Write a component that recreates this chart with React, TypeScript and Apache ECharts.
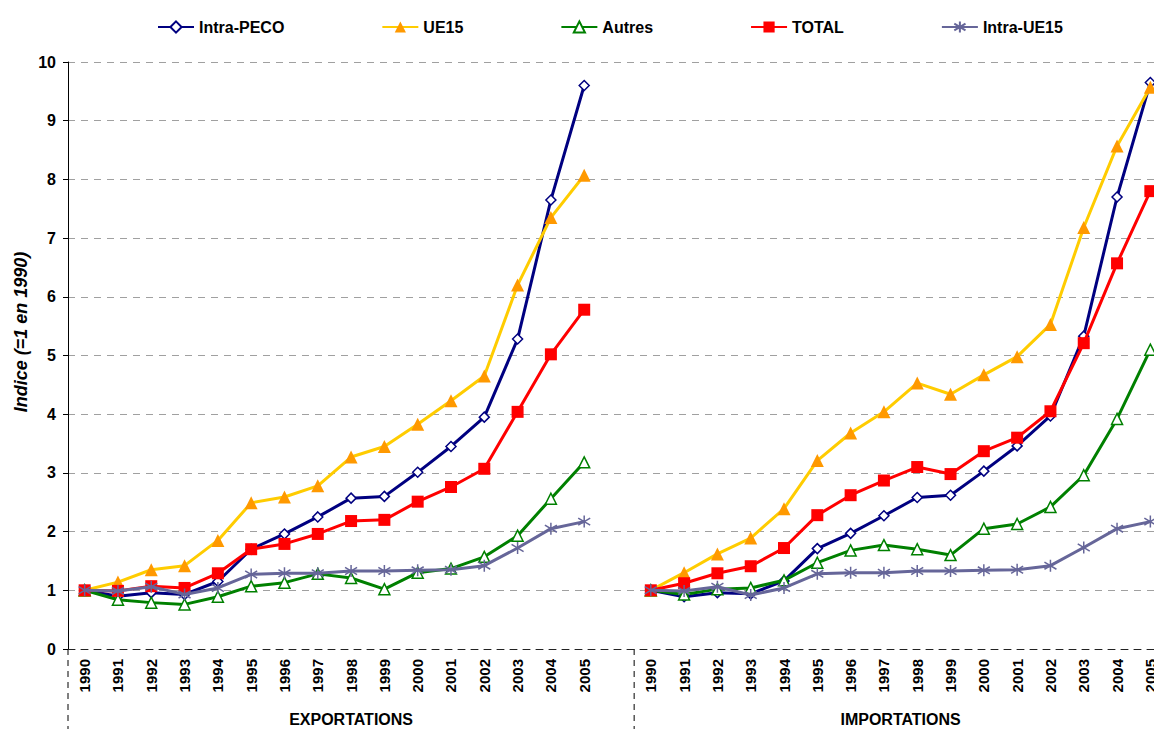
import React, { useEffect, useRef } from "react";
import * as echarts from "echarts";

const years = ["1990","1991","1992","1993","1994","1995","1996","1997","1998","1999","2000","2001","2002","2003","2004","2005"];
const groups = ["EXPORTATIONS", "IMPORTATIONS"];
const seriesNames = ["Intra-PECO", "UE15", "Autres", "TOTAL", "Intra-UE15"];
const yTitle = "Indice (=1 en 1990)";

const intraPecoExp = [1, 0.90, 0.96, 0.93, 1.15, 1.70, 1.96, 2.25, 2.57, 2.60, 3.01, 3.45, 3.95, 5.28, 7.65, 9.60];
const ue15Exp = [1, 1.14, 1.35, 1.42, 1.85, 2.49, 2.59, 2.78, 3.27, 3.45, 3.83, 4.23, 4.65, 6.20, 7.35, 8.07];
const autresExp = [1, 0.84, 0.79, 0.76, 0.89, 1.07, 1.13, 1.28, 1.21, 1.02, 1.30, 1.37, 1.57, 1.93, 2.56, 3.18];
const totalExp = [1, 0.99, 1.07, 1.04, 1.29, 1.70, 1.79, 1.96, 2.18, 2.20, 2.51, 2.76, 3.07, 4.04, 5.02, 5.78];
const intraUe15Exp = [1, 0.99, 1.06, 0.93, 1.04, 1.27, 1.29, 1.29, 1.33, 1.33, 1.34, 1.35, 1.42, 1.72, 2.05, 2.17];

const intraPecoImp = [1, 0.89, 0.96, 0.94, 1.16, 1.71, 1.97, 2.27, 2.58, 2.62, 3.03, 3.46, 3.97, 5.33, 7.70, 9.65];
const ue15Imp = [1, 1.30, 1.62, 1.89, 2.39, 3.21, 3.68, 4.04, 4.53, 4.34, 4.67, 4.98, 5.53, 7.18, 8.57, 9.57];
const autresImp = [1, 0.93, 1.02, 1.04, 1.17, 1.47, 1.68, 1.77, 1.70, 1.60, 2.05, 2.13, 2.42, 2.96, 3.92, 5.10];
const totalImp = [1, 1.12, 1.29, 1.41, 1.72, 2.28, 2.62, 2.87, 3.10, 2.98, 3.37, 3.60, 4.05, 5.21, 6.57, 7.80];
const intraUe15Imp = [1, 0.99, 1.06, 0.92, 1.04, 1.28, 1.30, 1.30, 1.33, 1.33, 1.34, 1.35, 1.42, 1.73, 2.05, 2.17];

const yTicks = [0, 1, 2, 3, 4, 5, 6, 7, 8, 9, 10];

const FONT = "Arial, 'Liberation Sans', sans-serif";
const asterisk = "path://M5,0L5,10M0.7,2L9.3,8M9.3,2L0.7,8";

function join(a: number[], b: number[]) {
  return [...a, null, ...b];
}

export default function App() {
  const ref = useRef<HTMLDivElement>(null);
  useEffect(() => {
    if (!ref.current) return;
    const chart = echarts.init(ref.current, null, { renderer: "svg" });
    const categories = [...years, "", ...years];
    const lineBase = (name: string, data: any[], color: string, extra: any) => ({
      name,
      type: "line",
      data,
      smooth: false,
      connectNulls: false,
      lineStyle: { color, width: 3 },
      ...extra,
    });
    const series = [
      lineBase(seriesNames[0], join(intraPecoExp, intraPecoImp), "#000080", {
        symbol: "diamond", symbolSize: 10,
        itemStyle: { color: "#ffffff", borderColor: "#000080", borderWidth: 1.5 },
        z: 2,
      }),
      lineBase(seriesNames[1], join(ue15Exp, ue15Imp), "#FFCC00", {
        symbol: "triangle", symbolSize: 13,
        itemStyle: { color: "#FF9900", borderColor: "#FF9900", borderWidth: 0 },
        z: 3,
      }),
      lineBase(seriesNames[2], join(autresExp, autresImp), "#008000", {
        symbol: "triangle", symbolSize: 11,
        itemStyle: { color: "#ffffff", borderColor: "#008000", borderWidth: 1.5 },
        z: 4,
      }),
      lineBase(seriesNames[3], join(totalExp, totalImp), "#FF0000", {
        symbol: "rect", symbolSize: 12,
        itemStyle: { color: "#FF0000", borderColor: "#FF0000", borderWidth: 0 },
        z: 5,
      }),
      lineBase(seriesNames[4], join(intraUe15Exp, intraUe15Imp), "#666699", {
        symbol: asterisk, symbolSize: 12,
        itemStyle: { color: "#666699", borderColor: "#666699", borderWidth: 1.5 },
        z: 6,
      }),
    ];
    chart.setOption({
      animation: false,
      textStyle: { fontFamily: FONT },
      legend: {
        top: 19,
        left: 157,
        padding: 0,
        itemWidth: 36,
        itemHeight: 14,
        itemGap: 97,
        textStyle: { fontFamily: FONT, fontWeight: "bold", fontSize: 16, color: "#000" },
        data: seriesNames,
      },
      grid: { left: 68, top: 62, width: 1099, bottom: 80, containLabel: false },
      xAxis: {
        type: "category",
        data: categories,
        boundaryGap: true,
        axisLine: { show: true, lineStyle: { color: "#222", type: [7, 6], width: 1 } },
        axisTick: { show: false },
        axisLabel: {
          rotate: 90, margin: 10, interval: 0,
          fontFamily: FONT, fontWeight: "bold", fontSize: 15, color: "#000",
        },
        splitLine: { show: false },
      },
      yAxis: {
        type: "value",
        min: yTicks[0],
        max: yTicks[yTicks.length - 1],
        interval: 1,
        axisLine: { show: true, lineStyle: { color: "#000", width: 1 } },
        axisTick: { show: true, inside: false, length: 5, lineStyle: { color: "#000" } },
        axisLabel: { fontFamily: FONT, fontWeight: "bold", fontSize: 16, color: "#000", margin: 12 },
        splitLine: { show: true, lineStyle: { color: "#a0a0a0", type: [7, 6], width: 1 } },
      },
      series,
    });

    const x0 = chart.convertToPixel({ xAxisIndex: 0 }, 0) as number;
    const x1 = chart.convertToPixel({ xAxisIndex: 0 }, 1) as number;
    const half = (x1 - x0) / 2;
    const yBase = chart.convertToPixel({ yAxisIndex: 0 }, 0) as number;
    const n = years.length;
    const bounds = [x0 - half, x0 + (n + 1) * 2 * half - half, x0 + (2 * n + 1) * 2 * half - half];
    const graphic: any[] = [];
    bounds.forEach((bx) => {
      graphic.push({
        type: "line",
        shape: { x1: bx, y1: yBase, x2: bx, y2: 729 },
        style: { stroke: "#000", lineWidth: 1, lineDash: [6, 5] },
      });
    });
    groups.forEach((g, i) => {
      const cx = (bounds[i] + bounds[i + 1]) / 2;
      graphic.push({
        type: "text",
        x: cx,
        y: 719,
        style: {
          text: g, fontFamily: FONT, fontWeight: "bold", fontSize: 16, fill: "#000",
          textAlign: "center", textVerticalAlign: "middle",
        },
      });
    });
    graphic.push({
      type: "text",
      x: 21,
      y: 332,
      rotation: Math.PI / 2,
      style: {
        text: yTitle, fontFamily: FONT, fontWeight: "bold", fontStyle: "italic", fontSize: 18, fill: "#000",
        textAlign: "center", textVerticalAlign: "middle",
      },
    });
    chart.setOption({ graphic });

    return () => chart.dispose();
  }, []);
  return (
    <div style={{ position: "fixed", left: 0, top: 0, width: 1154, height: 729, overflow: "hidden", background: "#fff" }}>
      <div ref={ref} style={{ width: 1172, height: 729 }} />
    </div>
  );
}
